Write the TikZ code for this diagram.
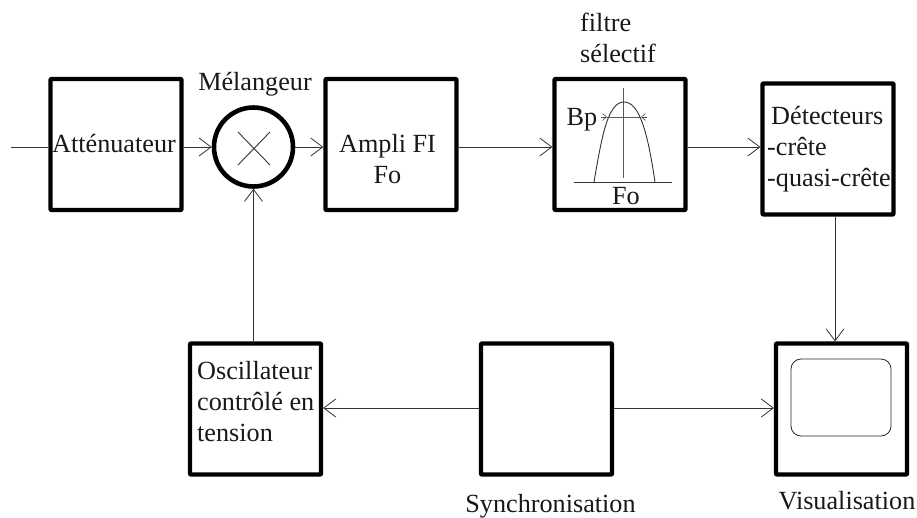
\documentclass[tikz,border=0pt]{standalone}
\usepackage{fontspec}
\setmainfont{Liberation Serif}
\usetikzlibrary{arrows.meta}
\tikzset{
  blockbox/.style={draw=black,line width=4.2pt,minimum width=131pt,minimum height=131pt,inner sep=0pt,line join=round,rounded corners=0.6pt},
  mixcircle/.style={circle,draw=black,line width=4.6pt,minimum size=79pt,inner sep=0pt},
  label/.style={font=\fontsize{26.2pt}{31pt}\selectfont,inner sep=0pt,text=black!90},
  link/.style={draw=black!80,line width=0.9pt,-{Straight Barb[length=12pt,width=18pt,line width=0.8pt]}},
  plain/.style={draw=black!80,line width=0.9pt},
  thin plain/.style={draw=black!65,line width=0.7pt},
  small tip/.style={draw=black!70,line width=0.7pt,-{Straight Barb[length=4pt,width=7pt,line width=0.6pt]}}
}
\begin{document}
\begin{tikzpicture}[x=1pt,y=-1pt]
\useasboundingbox[fill=white] (0,0) rectangle (917,517);
\node[blockbox] (att) at (116,144.5) {};
\node[mixcircle] (mix) at (253.5,147) {};
\node[blockbox] (amp) at (391,144.5) {};
\node[blockbox] (fil) at (620,144.5) {};
\node[blockbox] (det) at (828,149) {};
\node[blockbox] (osc) at (255.5,409) {};
\node[blockbox] (syn) at (546.5,409) {};
\node[blockbox] (vis) at (841.5,409) {};
% texts
\node[label,anchor=base] (tatt) at (114,152) {Atténuateur};
\node[label,anchor=base] (tmix) at (255,90) {Mélangeur};
\node[label,anchor=base,align=center] (tamp) at (387.5,183) {Ampli FI\\Fo};
\node[label,anchor=base west,align=left] (tfilt) at (580,62) {filtre\\sélectif};
\node[label,anchor=base west,align=left] (tdet) at (767,186) {\hspace*{4pt}Détecteurs\\-crête\\-quasi-crête};
\node[label,anchor=base west,align=left] (tosc) at (197,441) {Oscillateur\\contrôlé en\\tension};
\node[label,anchor=base] (tsyn) at (550.5,512) {Synchronisation};
\node[label,anchor=base] (tvis) at (847,509) {Visualisation};
\node[label,anchor=base] (tbp) at (582,125) {Bp};
\node[label,anchor=base] (tfo) at (626,204) {Fo};
% mixer cross
\coordinate (xa) at (238,132); \coordinate (xb) at (270,165);
\coordinate (xc) at (238,165); \coordinate (xd) at (270,132);
\draw[plain] (xa) -- (xb);
\draw[plain] (xc) -- (xd);
% connectors
\coordinate (in) at (11,147);
\coordinate (row) at (300,147);
\draw[plain] (in) -- (in -| att.west);
\draw[link] (att.east |- mix.west) -- (mix.west);
\draw[link] (mix.east) -- (mix.east -| amp.west);
\draw[link] (amp.east |- row) -- (fil.west |- row);
\draw[link] (fil.east |- row) -- (det.west |- row);
\draw[link] (osc.north -| mix.south) -- (mix.south);
\coordinate (dv) at (835,250);
\draw[link] (dv |- det.south) -- (dv |- vis.north);
\coordinate (low) at (500,408);
\draw[link] (syn.west |- low) -- (osc.east |- low);
\draw[link] (syn.east |- low) -- (vis.west |- low);
% filter graph
\coordinate (fa) at (623,88); \coordinate (fb) at (623,178);
\draw[thin plain] (fa) -- (fb);
\coordinate (ba) at (574,182); \coordinate (bb) at (672,182);
\draw[plain] (ba) -- (bb);
\draw[plain] (594,182) .. controls (602,135) and (608,102) .. (624,102) .. controls (640,102) and (648,135) .. (655,182);
\coordinate (ha) at (601,117); \coordinate (hb) at (647,117);
\coordinate (hc) at (607,117); \coordinate (hd) at (641,117);
\draw[thin plain] (hc) -- (hd);
\draw[small tip] (ha) -- (hc);
\draw[small tip] (hb) -- (hd);
% screen
\node[draw=black!85,line width=0.8pt,rounded corners=10pt,minimum width=100pt,minimum height=77pt,inner sep=0pt] (scr) at (841,397.5) {};
\end{tikzpicture}
\end{document}
